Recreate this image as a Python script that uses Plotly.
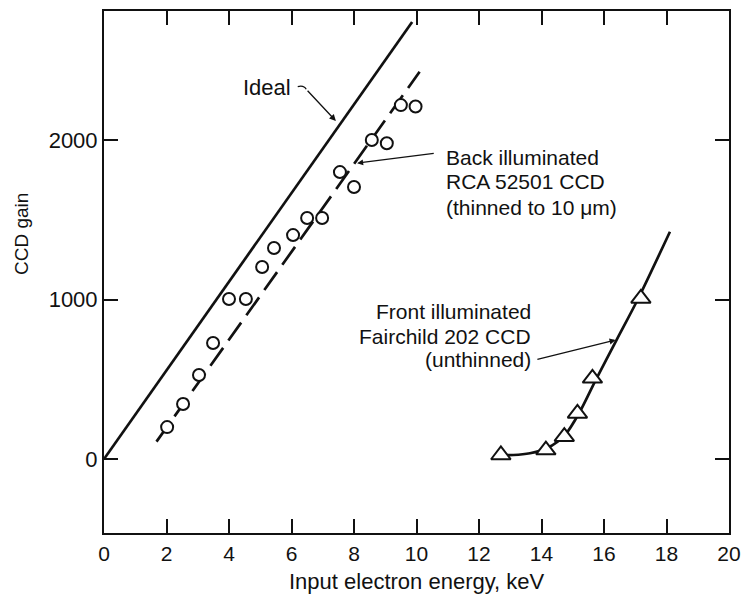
import plotly.graph_objects as go

# ---- data ----
ideal_x = [0.0, 9.86]
ideal_y = [0, 2740]

back_fit_x = [1.68, 10.1]
back_fit_y = [109, 2428]

back_x = [2.02, 2.53, 3.04, 3.49, 4.0, 4.54, 5.06, 5.44, 6.05, 6.5, 6.98, 7.55, 8.0, 8.57, 9.05, 9.5, 9.97]
back_y = [200, 345, 527, 727, 1003, 1003, 1204, 1323, 1404, 1511, 1511, 1799, 1705, 2000, 1980, 2219, 2210]

front_fit_x = [12.73, 13.1, 13.63, 14.17, 14.75, 15.23, 15.71, 16.4, 17.08, 18.11]
front_fit_y = [25, 25, 36, 67, 150, 297, 485, 746, 1000, 1425]

front_x = [12.7, 14.14, 14.73, 15.15, 15.63, 17.18]
front_y = [25, 56, 140, 286, 506, 1007]

x_ticks = [0, 2, 4, 6, 8, 10, 12, 14, 16, 18, 20]
y_ticks = [0, 1000, 2000]

FONT = "Liberation Sans, Arial, Helvetica, sans-serif"
INK = "#111111"

fig = go.Figure()

fig.add_trace(go.Scatter(x=ideal_x, y=ideal_y, mode="lines",
                         line=dict(color=INK, width=2.7)))
fig.add_trace(go.Scatter(x=back_fit_x, y=back_fit_y, mode="lines",
                         line=dict(color=INK, width=2.7, dash="22px,9px")))
fig.add_trace(go.Scatter(x=back_x, y=back_y, mode="markers",
                         marker=dict(symbol="circle", size=12, color="white",
                                     line=dict(color=INK, width=2))))
fig.add_trace(go.Scatter(x=front_fit_x, y=front_fit_y, mode="lines",
                         line=dict(color=INK, width=2.7, shape="spline", smoothing=0.8)))
fig.add_trace(go.Scatter(x=front_x, y=front_y, mode="markers",
                         marker=dict(symbol="triangle-up", size=17, color="white",
                                     line=dict(color=INK, width=2))))

tf = dict(family=FONT, size=22, color=INK)
lab_font = dict(family=FONT, size=21, color=INK)
tick_font = dict(family=FONT, size=21, color=INK)
annotations = []

# Ideal label and arrow
annotations.append(dict(x=5.22, y=2332, xref="x", yref="y", text="Ideal",
                        showarrow=False, font=tf, xanchor="center", yanchor="middle"))
annotations.append(dict(x=7.42, y=2119, ax=6.47, ay=2318, xref="x", yref="y",
                        axref="x", ayref="y", text="", showarrow=True,
                        arrowhead=2, arrowsize=1, arrowwidth=1.3, arrowcolor=INK))

# Back illuminated label
for txt, yy in [("Back illuminated", 1893), ("RCA 52501 CCD", 1737),
                ("(thinned to 10 \u03bcm)", 1580)]:
    annotations.append(dict(x=10.88, y=yy, xref="x", yref="y", text=txt,
                            showarrow=False, font=lab_font, xanchor="left", yanchor="middle"))
annotations.append(dict(x=8.1, y=1855, ax=10.6, ay=1918, xref="x", yref="y",
                        axref="x", ayref="y", text="", showarrow=True,
                        arrowhead=2, arrowsize=1, arrowwidth=1.2, arrowcolor=INK))

# Front illuminated label
for txt, yy in [("Front illuminated", 922), ("Fairchild 202 CCD", 771),
                ("(unthinned)", 621)]:
    annotations.append(dict(x=13.74, y=yy, xref="x", yref="y", text=txt,
                            showarrow=False, font=lab_font, xanchor="right", yanchor="middle"))
annotations.append(dict(x=16.37, y=746, ax=13.82, ay=622, xref="x", yref="y",
                        axref="x", ayref="y", text="", showarrow=True,
                        arrowhead=2, arrowsize=1, arrowwidth=1.2, arrowcolor=INK))

# Axis titles
annotations.append(dict(x=0.5, y=-0.093, xref="paper", yref="paper",
                        text="Input electron energy, keV", showarrow=False,
                        font=tf, xanchor="center", yanchor="middle"))
annotations.append(dict(x=-0.1312, y=0.5728, xref="paper", yref="paper",
                        text="CCD gain", showarrow=False, textangle=-90,
                        font=dict(family=FONT, size=19, color=INK),
                        xanchor="center", yanchor="middle"))

# small hook of the "Ideal" leader
shapes = [dict(type="path", xref="x", yref="y",
               path="M 6.2 2335 Q 6.4 2345 6.47 2318",
               line=dict(color=INK, width=1.3))]

fig.update_layout(
    width=744, height=598,
    margin=dict(l=104, r=15, t=11, b=65, autoexpand=False),
    plot_bgcolor="white", paper_bgcolor="white",
    showlegend=False,
    annotations=annotations,
    shapes=shapes,
    font=dict(family=FONT, color=INK),
)

fig.update_xaxes(range=[0, 20], tickvals=x_ticks, ticktext=[str(v) for v in x_ticks],
                 ticks="inside", ticklen=14, tickwidth=1.5, tickcolor=INK,
                 showline=True, linewidth=2, linecolor=INK, mirror="ticks",
                 showgrid=False, zeroline=False, tickfont=tick_font, automargin=False,
                 ticklabelstandoff=1)
fig.update_yaxes(range=[-464, 2809], tickvals=y_ticks, ticktext=[str(v) for v in y_ticks],
                 ticks="inside", ticklen=14, tickwidth=1.5, tickcolor=INK,
                 showline=True, linewidth=2, linecolor=INK, mirror="ticks",
                 showgrid=False, zeroline=False, tickfont=tf, automargin=False)

fig.write_html("out.html")
